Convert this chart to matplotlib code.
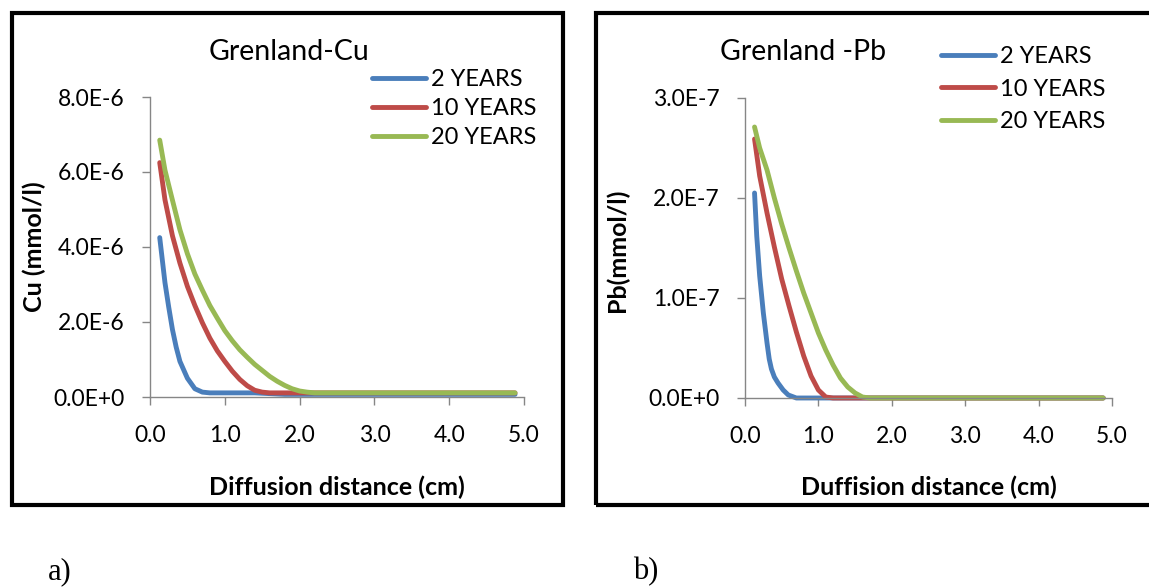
import matplotlib
matplotlib.use("Agg")
import matplotlib.pyplot as plt
from matplotlib.patches import Rectangle
from matplotlib.ticker import FuncFormatter, MultipleLocator

plt.rcParams["font.family"] = ["Lato", "DejaVu Sans"]

W, H = 1149, 587

def fx(px):
    return px / W

def fy(py):
    return 1 - py / H

series_labels = ["2 YEARS", "10 YEARS", "20 YEARS"]
series_colors = ["#4A7EBB", "#BE4B48", "#98B954"]

# Grenland-Cu (mmol/l)
cu_x_2y = [0.13, 0.2, 0.25, 0.3, 0.35, 0.4, 0.5, 0.6, 0.7, 0.8, 1.4, 1.8, 4.88]
cu_2y = [4.25e-6, 3.05e-6, 2.4e-6, 1.8e-6, 1.33e-6, 0.95e-6, 0.5e-6, 0.22e-6,
         0.13e-6, 0.11e-6, 0.11e-6, 0.07e-6, 0.07e-6]

cu_x_10y = [0.13, 0.2, 0.3, 0.4, 0.5, 0.6, 0.7, 0.8, 0.9, 1.0, 1.1, 1.2,
            1.3, 1.4, 1.5, 1.6, 4.88]
cu_10y = [6.25e-6, 5.26e-6, 4.3e-6, 3.57e-6, 2.95e-6, 2.44e-6, 1.98e-6,
          1.57e-6, 1.23e-6, 0.95e-6, 0.69e-6, 0.47e-6, 0.3e-6, 0.18e-6,
          0.13e-6, 0.11e-6, 0.11e-6]

cu_x_20y = [0.13, 0.2, 0.3, 0.4, 0.5, 0.6, 0.7, 0.8, 0.9, 1.0, 1.1, 1.2,
            1.3, 1.4, 1.5, 1.6, 1.7, 1.8, 1.9, 2.0, 2.1, 2.2, 4.88]
cu_20y = [6.85e-6, 6.05e-6, 5.25e-6, 4.46e-6, 3.82e-6, 3.28e-6, 2.85e-6,
          2.44e-6, 2.1e-6, 1.77e-6, 1.5e-6, 1.26e-6, 1.06e-6, 0.87e-6,
          0.71e-6, 0.55e-6, 0.42e-6, 0.31e-6, 0.22e-6, 0.16e-6, 0.13e-6,
          0.11e-6, 0.11e-6]

# Grenland -Pb (mmol/l)
pb_x_2y = [0.13, 0.16, 0.2, 0.25, 0.3, 0.33, 0.36, 0.4, 0.45, 0.52, 0.59, 0.7, 4.88]
pb_2y = [2.05e-7, 1.62e-7, 1.22e-7, 0.85e-7, 0.55e-7, 0.39e-7, 0.29e-7,
         0.21e-7, 0.15e-7, 0.08e-7, 0.03e-7, 0.0, 0.0]

pb_x_10y = [0.13, 0.2, 0.3, 0.4, 0.5, 0.6, 0.7, 0.8, 0.9, 1.0, 1.1, 1.2, 4.88]
pb_10y = [2.59e-7, 2.22e-7, 1.85e-7, 1.51e-7, 1.19e-7, 0.92e-7, 0.66e-7,
          0.42e-7, 0.22e-7, 0.08e-7, 0.01e-7, 0.0, 0.0]

pb_x_20y = [0.13, 0.2, 0.3, 0.4, 0.5, 0.6, 0.7, 0.8, 0.9, 1.0, 1.1, 1.2,
            1.3, 1.4, 1.5, 1.6, 1.7, 4.88]
pb_20y = [2.71e-7, 2.5e-7, 2.28e-7, 2.0e-7, 1.74e-7, 1.5e-7, 1.27e-7,
          1.05e-7, 0.85e-7, 0.65e-7, 0.48e-7, 0.33e-7, 0.2e-7, 0.11e-7,
          0.05e-7, 0.01e-7, 0.0, 0.0]


def sci(v, pos):
    mant, exp = f"{v:.1E}".split("E")
    return f"{mant}E{int(exp):+d}"


def style_axes(ax, ymax, ystep):
    ax.set_xlim(0, 5)
    ax.set_ylim(0, ymax)
    ax.xaxis.set_major_locator(MultipleLocator(1))
    ax.yaxis.set_major_locator(MultipleLocator(ystep))
    ax.xaxis.set_major_formatter(FuncFormatter(lambda v, p: f"{v:.1f}"))
    ax.yaxis.set_major_formatter(FuncFormatter(sci))
    for s in ["top", "right"]:
        ax.spines[s].set_visible(False)
    for s in ["left", "bottom"]:
        ax.spines[s].set_color("#868686")
        ax.spines[s].set_linewidth(1)
    ax.tick_params(axis="both", direction="out", color="#868686", width=1,
                   length=5.5, labelsize=16.5)
    ax.tick_params(axis="x", pad=15)
    ax.tick_params(axis="y", pad=13)


fig = plt.figure(figsize=(W / 100, H / 100), dpi=100)

ax1 = fig.add_axes([fx(150), fy(397), (524 - 150) / W, (397 - 97) / H])
ax2 = fig.add_axes([fx(745), fy(398), (1112 - 745) / W, (398 - 98) / H])

for x, y, lab, col in zip([cu_x_2y, cu_x_10y, cu_x_20y], [cu_2y, cu_10y, cu_20y],
                          series_labels, series_colors):
    ax1.plot(x, y, color=col, lw=3.5, label=lab, solid_capstyle="round",
             solid_joinstyle="round", clip_on=False)
for x, y, lab, col in zip([pb_x_2y, pb_x_10y, pb_x_20y], [pb_2y, pb_10y, pb_20y],
                          series_labels, series_colors):
    ax2.plot(x, y, color=col, lw=3.5, label=lab, solid_capstyle="round",
             solid_joinstyle="round", clip_on=False)

style_axes(ax1, 8e-6, 2e-6)
style_axes(ax2, 3e-7, 1e-7)

ax1.legend(loc="upper left", bbox_to_anchor=(fx(372), fy(69)),
           bbox_transform=fig.transFigure, frameon=False, fontsize=17,
           handlelength=2.3, handletextpad=0.2, labelspacing=0.34,
           borderpad=0, borderaxespad=0)
ax2.legend(loc="upper left", bbox_to_anchor=(fx(941), fy(46)),
           bbox_transform=fig.transFigure, frameon=False, fontsize=17,
           handlelength=2.3, handletextpad=0.2, labelspacing=0.49,
           borderpad=0, borderaxespad=0)

fig.text(fx(289), fy(52), "Grenland-Cu", ha="center", va="center", fontsize=20.5)
fig.text(fx(803), fy(52), "Grenland -Pb", ha="center", va="center", fontsize=20.5)

fig.text(fx(337), fy(487), "Diffusion distance (cm)", ha="center", va="center",
         fontsize=18, fontweight="bold")
fig.text(fx(929), fy(487), "Duffision distance (cm)", ha="center", va="center",
         fontsize=18, fontweight="bold")
fig.text(fx(34), fy(247), "Cu (mmol/l)", ha="center", va="center", rotation=90,
         fontsize=18, fontweight="bold")
fig.text(fx(617), fy(250), "Pb(mmol/l)", ha="center", va="center", rotation=90,
         fontsize=18, fontweight="bold")

fig.text(fx(60), fy(572), "a)", ha="center", va="center", fontsize=22,
         family="Liberation Serif")
fig.text(fx(646), fy(572), "b)", ha="center", va="center", fontsize=22,
         family="Liberation Serif")

# black frames round each chart
fig.add_artist(Rectangle((fx(12), fy(505)), (563 - 12) / W, (505 - 13) / H,
                         transform=fig.transFigure, fill=False, lw=3, ec="black"))
fig.add_artist(Rectangle((fx(596), fy(505)), (1165 - 596) / W, (505 - 13) / H,
                         transform=fig.transFigure, fill=False, lw=3, ec="black"))

fig.savefig("out.png", dpi=100)
